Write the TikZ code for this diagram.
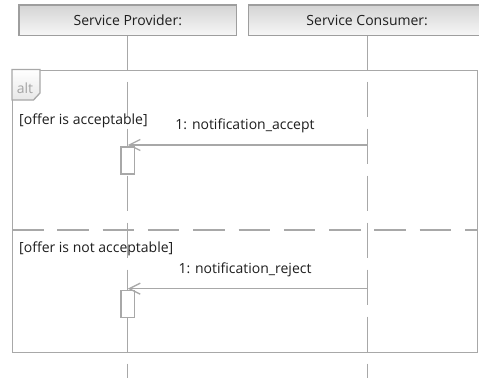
\documentclass[tikz,border=0pt]{standalone}
\usepackage{fontspec}
\setmainfont{Open Sans}
\usetikzlibrary{arrows.meta}

\definecolor{umlline}{HTML}{A8A8A8}
\definecolor{umltext}{HTML}{1E1E1E}
\definecolor{headtop}{HTML}{D4D4D4}
\definecolor{headbot}{HTML}{F7F7F7}
\definecolor{headedge}{HTML}{9E9E9E}
\definecolor{altgray}{HTML}{A4A4A4}

\begin{document}
\begin{tikzpicture}[x=1pt, y=-1pt,
  font=\fontsize{14}{16}\selectfont, text=umltext,
  umlline/.style={draw=umlline, line width=1.3pt},
  header/.style={draw=headedge, line width=1.4pt, top color=headtop, bottom color=headbot,
    minimum height=30.5pt, inner sep=0pt},
  lifedash/.style={umlline, dash pattern=on 35pt off 12pt, dash phase=35pt},
  actbox/.style={umlline, fill=white, minimum width=13.5pt, minimum height=27pt, inner sep=0pt},
  msg/.style={umlline, -{Straight Barb[length=11pt,width=11pt]}},
  plain/.style={inner sep=0pt},
]
  % canvas
  \clip (0,0) rectangle (479,378);
  \fill[white] (0,0) rectangle (479,378);

  % lifeline heads
  \node[header, minimum width=217.7pt] (sp) at (127.8,20.3) {Service Provider:};
  \node[header, minimum width=237.4pt] (sc) at (367.2,20.3) {Service Consumer:};

  % combined fragment frame
  \node[umlline, minimum width=465pt, minimum height=282.2pt, inner sep=0pt, anchor=north west]
    (frame) at (12,69.5) {};

  % lifelines: solid above the frame, dashed inside and below it
  \draw[umlline] (sp.south) -- (sp.south |- frame.north);
  \draw[umlline] (sc.south) -- (sc.south |- frame.north);
  \coordinate (bottom) at (0,378);
  \draw[lifedash] (sp.south |- frame.north) -- (sp.south |- bottom);
  \draw[lifedash] (sc.south |- frame.north) -- (sc.south |- bottom);

  % operand separator
  \coordinate (sep) at (0,230);
  \draw[umlline, dash pattern=on 31.5pt off 13.8pt] (frame.west |- sep) -- (frame.east |- sep);

  % operator tab
  \draw[umlline, top color=white, bottom color=headtop!55] (frame.north west) -- (40,69.5) -- (40,93)
    -- (33.5,100) -- (12,100) -- cycle;
  \node[plain, text=altgray, anchor=base] (alt) at (25,93) {alt};

  % guards
  \node[plain, anchor=base west] (g1) at (19,124.8) {[offer is acceptable]};
  \node[plain, anchor=base west] (g2) at (19,252.3) {[offer is not acceptable]};

  % execution specifications
  \node[actbox] (act1) at (127.8,160.5) {};
  \node[actbox] (act2) at (127.8,304.3) {};

  % messages
  \coordinate (m1) at (sc.south |- 0,145);
  \coordinate (m2) at (sc.south |- 0,288.7);
  \draw[msg] (m1) -- (sp.south |- m1);
  \draw[msg] (m2) -- (sp.south |- m2);
  \node[plain, anchor=base] (l1) at (245,129.5) {1: notification\_accept};
  \node[plain, anchor=base] (l2) at (245,273) {1: notification\_reject};
\end{tikzpicture}
\end{document}
